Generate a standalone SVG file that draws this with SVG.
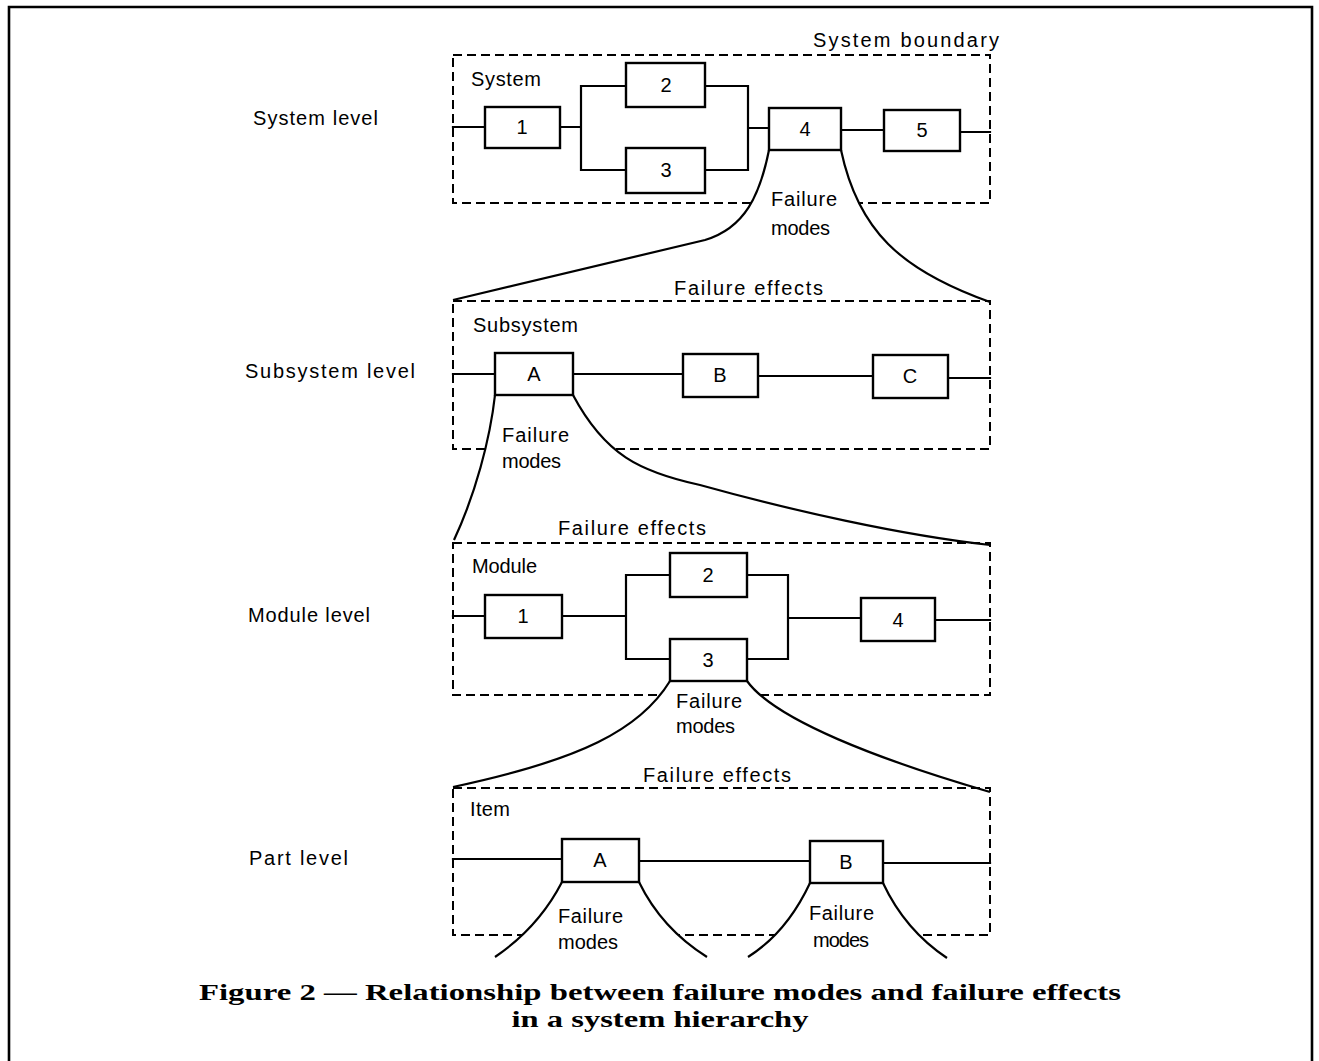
<svg xmlns="http://www.w3.org/2000/svg" width="1319" height="1061" viewBox="0 0 1319 1061">
<style>
.frame{fill:none;stroke:#000;stroke-width:2.6}
.bound{fill:none;stroke:#000;stroke-width:2;stroke-dasharray:9 5}
.mask{fill:#fff;stroke:none}
.wire{fill:none;stroke:#000;stroke-width:2.2;stroke-linecap:square}
.cone{fill:none;stroke:#000;stroke-width:2.2}
.box{fill:#fff;stroke:#000;stroke-width:2.4}
text{font-family:"Liberation Sans","DejaVu Sans",Arial,sans-serif;font-size:20px;fill:#000}
.c{text-anchor:middle}
.cap{font-family:"Liberation Serif","DejaVu Serif",serif;font-weight:bold;font-size:24px}
</style>
<rect x="0" y="0" width="1319" height="1061" fill="#fff"/>
<path class="frame" d="M9,1070 V7 H1312 V1070"/>

<g id="level-system">
<rect class="bound" x="453" y="55" width="537" height="148"/>
<path class="mask" d="M769,150 C760,195 745,228 705,240 L453,300 L990,302 C900,270 858,230 841,150 Z"/>
</g>
<g id="level-subsystem">
<rect class="bound" x="453" y="301" width="537" height="148"/>
<path class="mask" d="M495,395 C490,440 475,495 454,540 L990,545 C900,535 790,510 700,485 C640,472 605,455 573,395 Z"/>
</g>
<g id="level-module">
<rect class="bound" x="453" y="543" width="537" height="152"/>
<path class="mask" d="M670,681 C640,730 580,760 453,787 L990,792 C880,760 775,720 747,681 Z"/>
</g>
<g id="level-part">
<rect class="bound" x="453" y="788" width="537" height="147"/>
<path class="mask" d="M562,882 C545,915 520,940 495,957 L707,957 C680,940 655,915 639,882 Z"/>
<path class="mask" d="M810,883 C795,915 775,940 748,957 L947,958 C920,940 898,915 883,883 Z"/>
</g>

<g id="connectors">
<!-- system level -->
<path class="wire" d="M453,127 H485 M560,127 H581 M581,86 V170 M581,86 H626 M705,86 H748 M581,170 H626 M705,170 H748 M748,86 V170 M748,128 H769 M841,130 H884 M960,132 H990"/>
<path class="cone" d="M769,150 C760,195 745,228 705,240 L453,300"/>
<path class="cone" d="M841,150 C858,230 900,270 990,302"/>
<!-- subsystem level -->
<path class="wire" d="M453,374 H495 M573,374 H683 M758,376 H873 M948,378 H990"/>
<path class="cone" d="M495,395 C490,440 475,495 454,540"/>
<path class="cone" d="M573,395 C605,455 640,472 700,485 C790,510 900,535 990,545"/>
<!-- module level -->
<path class="wire" d="M453,616 H485 M562,616 H626 M626,575 V659 M626,575 H670 M747,575 H788 M626,659 H670 M747,659 H788 M788,575 V659 M788,618 H861 M935,620 H990"/>
<path class="cone" d="M670,681 C640,730 580,760 453,787"/>
<path class="cone" d="M747,681 C775,720 880,760 990,792"/>
<!-- part level -->
<path class="wire" d="M453,859 H562 M639,861 H810 M883,863 H990"/>
<path class="cone" d="M562,882 C545,915 520,940 495,957"/>
<path class="cone" d="M639,882 C655,915 680,940 707,957"/>
<path class="cone" d="M810,883 C795,915 775,940 748,957"/>
<path class="cone" d="M883,883 C898,915 920,940 947,958"/>
</g>

<g id="sys-1"><rect class="box" x="485" y="107" width="75" height="41"/><text class="c" x="522" y="134">1</text></g>
<g id="sys-2"><rect class="box" x="626" y="63" width="79" height="44"/><text class="c" x="666" y="92">2</text></g>
<g id="sys-3"><rect class="box" x="626" y="148" width="79" height="45"/><text class="c" x="666" y="177">3</text></g>
<g id="sys-4"><rect class="box" x="769" y="108" width="72" height="42"/><text class="c" x="805" y="136">4</text></g>
<g id="sys-5"><rect class="box" x="884" y="110" width="76" height="41"/><text class="c" x="922" y="137">5</text></g>

<g id="sub-A"><rect class="box" x="495" y="353" width="78" height="42"/><text class="c" x="534" y="381">A</text></g>
<g id="sub-B"><rect class="box" x="683" y="354" width="75" height="43"/><text class="c" x="720" y="382">B</text></g>
<g id="sub-C"><rect class="box" x="873" y="355" width="75" height="43"/><text class="c" x="910" y="383">C</text></g>

<g id="mod-1"><rect class="box" x="485" y="595" width="77" height="43"/><text class="c" x="523" y="623">1</text></g>
<g id="mod-2"><rect class="box" x="670" y="553" width="77" height="44"/><text class="c" x="708" y="582">2</text></g>
<g id="mod-3"><rect class="box" x="670" y="639" width="77" height="42"/><text class="c" x="708" y="667">3</text></g>
<g id="mod-4"><rect class="box" x="861" y="598" width="74" height="43"/><text class="c" x="898" y="627">4</text></g>

<g id="part-A"><rect class="box" x="562" y="839" width="77" height="43"/><text class="c" x="600" y="867">A</text></g>
<g id="part-B"><rect class="box" x="810" y="841" width="73" height="42"/><text class="c" x="846" y="869">B</text></g>

<g id="labels">
<text x="813" y="47" textLength="186">System boundary</text>
<text x="471" y="86" textLength="70">System</text>
<text x="253" y="125" textLength="125">System level</text>
<text x="771" y="206" textLength="66">Failure</text>
<text x="771" y="235" textLength="59">modes</text>

<text x="674" y="295" textLength="149">Failure effects</text>
<text x="473" y="332" textLength="105">Subsystem</text>
<text x="245" y="378" textLength="170">Subsystem level</text>
<text x="502" y="442" textLength="67">Failure</text>
<text x="502" y="468" textLength="59">modes</text>

<text x="558" y="535" textLength="148">Failure effects</text>
<text x="472" y="573" textLength="65">Module</text>
<text x="248" y="622" textLength="122">Module level</text>
<text x="676" y="708" textLength="66">Failure</text>
<text x="676" y="733" textLength="59">modes</text>

<text x="643" y="782" textLength="148">Failure effects</text>
<text x="470" y="816" textLength="40">Item</text>
<text x="249" y="865" textLength="99">Part level</text>
<text x="558" y="923" textLength="65">Failure</text>
<text x="558" y="949" textLength="60">modes</text>
<text x="809" y="920" textLength="65">Failure</text>
<text x="813" y="947" textLength="56">modes</text>
</g>

<g id="caption">
<text class="cap c" x="660" y="1000" textLength="922" lengthAdjust="spacingAndGlyphs">Figure 2 — Relationship between failure modes and failure effects</text>
<text class="cap c" x="660" y="1027" textLength="297" lengthAdjust="spacingAndGlyphs">in a system hierarchy</text>
</g>
</svg>
